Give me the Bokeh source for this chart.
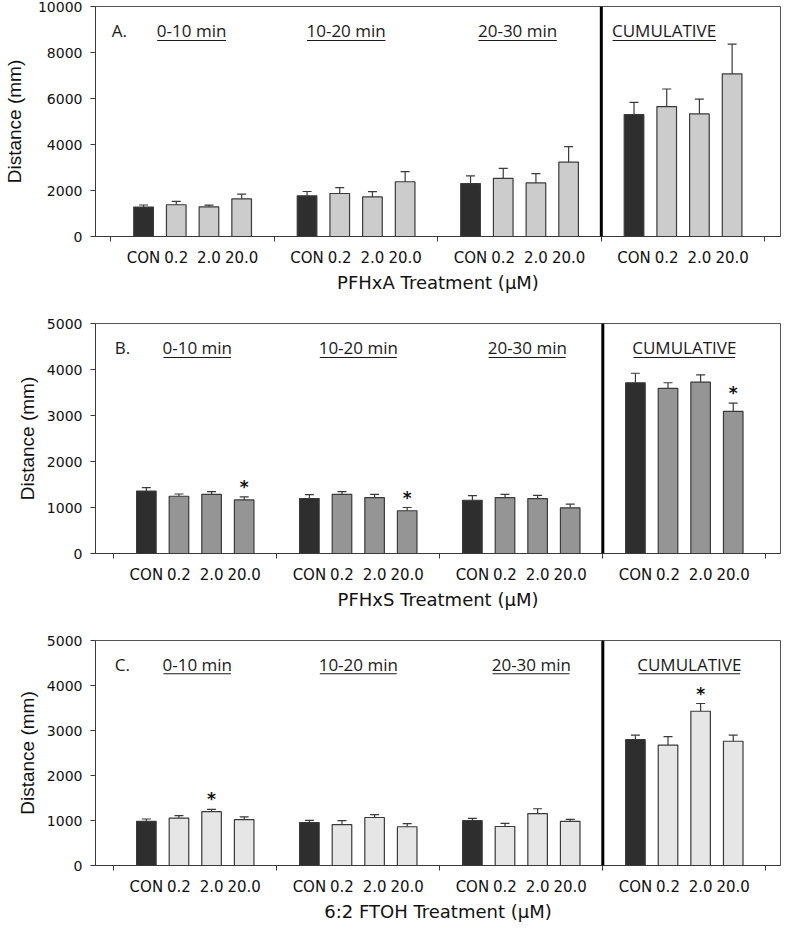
from bokeh.plotting import figure
from bokeh.models import FixedTicker, Span, Whisker, TeeHead, ColumnDataSource, Range1d
from bokeh.layouts import column
from bokeh.core.properties import value
from bokeh.embed import file_html
from bokeh.resources import INLINE

# ---------------- data ----------------
doses = ["CON", "0.2", "2.0", "20.0"]
periods = ["0-10 min", "10-20 min", "20-30 min", "CUMULATIVE"]

# order: 0-10 (CON,0.2,2.0,20.0), 10-20, 20-30, cumulative
pfhxa_mean = [1280, 1380, 1290, 1640, 1770, 1870, 1720, 2380, 2300, 2530, 2330, 3230, 5300, 5650, 5330, 7070]
pfhxa_sem = [90, 143, 75, 200, 187, 258, 230, 440, 332, 431, 400, 676, 531, 762, 646, 1293]
pfhxa_star = []

pfhxs_mean = [1358, 1245, 1287, 1165, 1194, 1287, 1215, 929, 1158, 1215, 1194, 994, 3712, 3590, 3726, 3090]
pfhxs_sem = [72, 49, 57, 65, 86, 57, 72, 71, 100, 72, 71, 78, 207, 122, 158, 178]
pfhxs_star = [3, 7, 15]

ftoh_mean = [981, 1054, 1197, 1018, 953, 910, 1067, 861, 996, 867, 1153, 981, 2797, 2675, 3428, 2761]
ftoh_sem = [52, 56, 51, 64, 50, 86, 65, 71, 50, 71, 108, 43, 100, 187, 172, 136]
ftoh_star = [2, 14]

# ---------------- style helpers ----------------
OPEN_SANS_W = {"0": .572, "1": .572, "2": .572, "3": .572, "-": .322, " ": .26, "m": .928,
               "i": .258, "n": .613, "C": .632, "U": .730, "M": .907, "L": .529, "A": .633,
               "T": .556, "I": .279, "V": .601, "E": .556}


def text_width(s, size):
    return sum(OPEN_SANS_W.get(c, .55) for c in s) * size


PAGE_W = 784
FRAME_H = 230
DARK = "#3a3a3a"


def make_panel(letter, means, sems, stars, fill, xtitle, ymax, ystep, xr,
               frame_left, frame_right, height, bottom, title_dx):
    p = figure(width=PAGE_W, height=height, output_backend="svg", toolbar_location=None,
               x_range=Range1d(*xr), y_range=Range1d(0, ymax),
               min_border_left=frame_left - 8, min_border_right=8 + PAGE_W - frame_right,
               min_border_top=6, min_border_bottom=bottom)
    p.xgrid.visible = False
    p.ygrid.visible = False
    p.outline_line_color = "#555555"
    p.outline_line_width = 1
    p.background_fill_color = "white"

    xs = [5 * (i // 4) + (i % 4) + 1 for i in range(len(means))]
    colors = ["#2e2e2e" if i % 4 == 0 else fill for i in range(len(means))]
    src = ColumnDataSource(dict(x=xs, mean=means, upper=[m + s for m, s in zip(means, sems)],
                                color=colors))
    p.vbar(x="x", top="mean", width=0.6, source=src, fill_color="color",
           line_color=DARK, line_width=1.2)
    p.add_layout(Whisker(source=src, base="x", upper="upper", lower="mean", dimension="height",
                         line_color=DARK, line_width=1.2, lower_head=None,
                         upper_head=TeeHead(size=9, line_color=DARK, line_width=1.2)))

    p.add_layout(Span(location=15, dimension="height", line_color="black", line_width=3))

    if stars:
        p.text(x=[xs[i] for i in stars], y=[means[i] + sems[i] for i in stars],
               text=["*"] * len(stars), text_font=value("DejaVu Sans"),
               text_font_style="bold", text_font_size="17px", text_align="center",
               text_baseline="alphabetic", y_offset=-10, text_color="#111111")

    frame_w = frame_right - frame_left
    slot_px = frame_w / (xr[1] - xr[0])
    ypx = ymax / FRAME_H
    centers = [5 * g + 2.5 for g in range(len(periods))]
    p.text(x=centers, y=[ymax] * 4, text=periods, x_offset=title_dx, y_offset=24,
           text_font=value("Open Sans"), text_font_size="17px", text_align="center",
           text_baseline="alphabetic", text_color="#1a1a1a")
    x0s, x1s = [], []
    for c, t, dx in zip(centers, periods, title_dx):
        w = text_width(t, 17)
        x0s.append(c + (dx - w / 2) / slot_px)
        x1s.append(c + (dx + w / 2) / slot_px)
    uy = ymax - 34 * ypx
    p.segment(x0=x0s, x1=x1s, y0=[uy] * 4, y1=[uy] * 4, line_color="#1a1a1a", line_width=1.2)
    p.text(x=[0], y=[ymax], text=[letter], x_offset=1, y_offset=24,
           text_font=value("Open Sans"), text_font_size="17px", text_align="left",
           text_baseline="alphabetic", text_color="#1a1a1a")

    xa = p.xaxis[0]
    xa.ticker = FixedTicker(ticks=xs, minor_ticks=[0, 5, 10, 15, 20])
    xa.major_label_overrides = {x: doses[i % 4] for i, x in enumerate(xs)}
    xa.major_tick_out = 0
    xa.major_tick_in = 0
    xa.major_tick_line_color = None
    xa.minor_tick_out = 5
    xa.minor_tick_in = 0
    xa.minor_tick_line_color = DARK
    xa.axis_line_color = DARK
    xa.major_label_text_font = "DejaVu Sans"
    xa.major_label_text_font_size = "15px"
    xa.major_label_text_color = "#111111"
    xa.major_label_standoff = 7
    xa.axis_label = xtitle
    xa.axis_label_text_font = "DejaVu Sans"
    xa.axis_label_text_font_size = "18px"
    xa.axis_label_text_font_style = "normal"
    xa.axis_label_text_color = "#111111"
    xa.axis_label_standoff = 2

    ya = p.yaxis[0]
    ya.ticker = FixedTicker(ticks=list(range(0, ymax + 1, ystep)))
    ya.major_tick_out = 5
    ya.major_tick_in = 0
    ya.minor_tick_line_color = None
    ya.major_tick_line_color = DARK
    ya.axis_line_color = DARK
    ya.major_label_text_font = "DejaVu Sans"
    ya.major_label_text_font_size = "14px"
    ya.major_label_text_color = "#111111"
    ya.major_label_standoff = 8
    ya.axis_label = "Distance (mm)"
    ya.axis_label_text_font = "'Liberation Sans Narrow', 'Liberation Sans'"
    ya.axis_label_text_font_size = "19px"
    ya.axis_label_text_font_style = "normal"
    ya.axis_label_text_color = "#111111"
    ya.axis_label_standoff = 10 if ymax >= 10000 else 6
    return p


pA = make_panel("A.", pfhxa_mean, pfhxa_sem, pfhxa_star, "#cccccc", "PFHxA Treatment (\u03bcM)",
                10000, 2000, (-0.47, 20.48), 97, 790, 317, 81, [-1, -10, -2, -19])
pB = make_panel("B.", pfhxs_mean, pfhxs_sem, pfhxs_star, "#959595", "PFHxS Treatment (\u03bcM)",
                5000, 1000, (-0.56, 20.45), 82, 788, 317, 81, [2, 0, 6, 0])
pC = make_panel("C.", ftoh_mean, ftoh_sem, ftoh_star, "#e6e6e6", "6:2 FTOH Treatment (\u03bcM)",
                5000, 1000, (-0.56, 20.45), 82, 788, 290, 54, [2, 0, 10, 5])

layout = column(pA, pB, pC, spacing=0)
open("out.html", "w").write(file_html(layout, INLINE))
